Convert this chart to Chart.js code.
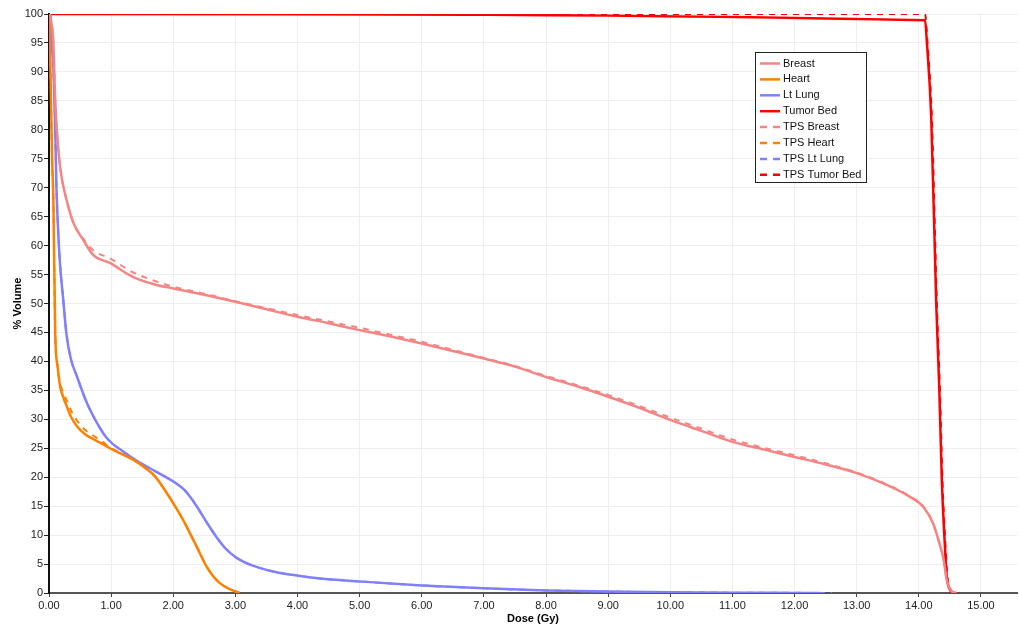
<!DOCTYPE html>
<html>
<head>
<meta charset="utf-8">
<script src="https://cdn.jsdelivr.net/npm/chart.js@4.4.1/dist/chart.umd.min.js"></script>
<style>
  html, body { margin: 0; padding: 0; background: #fff; }
  #wrap { position: relative; width: 1019px; height: 627px; }
</style>
</head>
<body>
<div id="wrap"><canvas id="dvh"></canvas></div>
<script>
// ── Data (dose in Gy, volume in %) ─────────────────────────────────────────────

const xTicks = [0, 1, 2, 3, 4, 5, 6, 7, 8, 9, 10, 11, 12, 13, 14, 15];
const yTicks = [0, 5, 10, 15, 20, 25, 30, 35, 40, 45, 50, 55, 60, 65, 70, 75, 80, 85, 90, 95, 100];

const breastDose = [0, 0.03, 0.07, 0.1, 0.15, 0.2, 0.28, 0.39, 0.55, 0.71, 0.98, 1.35, 1.73, 2.0, 2.5, 3.0, 3.5, 4.0, 4.5, 5.0, 5.5, 6.0, 6.5, 7.0, 7.5, 8.0, 8.5, 9.0, 9.5, 10.0, 10.5, 11.0, 11.5, 12.0, 12.5, 13.0, 13.5, 13.86, 14.07, 14.23, 14.32, 14.4, 14.45, 14.52, 14.6];
const breastVol  = [100, 99, 95, 85, 76.5, 72, 68, 64, 61, 58.4, 57, 54.6, 53.2, 52.6, 51.5, 50.3, 49, 47.7, 46.6, 45.4, 44.3, 43.1, 41.8, 40.5, 39.1, 37.3, 35.7, 33.9, 32.0, 29.9, 28.0, 26.1, 24.8, 23.5, 22.2, 20.7, 18.6, 16.6, 14.9, 12.0, 9.0, 5.7, 2.2, 0.4, 0];
const tpsBreastVol = [100, 99, 95, 85, 76.5, 72, 68, 64, 61.2, 59.2, 57.8, 55.4, 53.8, 52.9, 51.7, 50.4, 49.2, 48.0, 46.9, 45.8, 44.6, 43.4, 42.0, 40.6, 39.2, 37.5, 35.9, 34.2, 32.3, 30.3, 28.4, 26.5, 25.1, 23.8, 22.4, 20.8, 18.7, 16.7, 15.0, 12.0, 9.0, 5.7, 2.2, 0.4, 0];

const heartDose = [0, 0.02, 0.05, 0.07, 0.1, 0.14, 0.18, 0.23, 0.28, 0.36, 0.45, 0.58, 0.71, 0.85, 0.98, 1.15, 1.36, 1.55, 1.71, 1.85, 2.0, 2.15, 2.27, 2.4, 2.54, 2.65, 2.75, 2.9, 3.07];
const heartVol  = [100, 92, 75, 68, 45, 39, 35.6, 33.8, 32.4, 30.3, 28.8, 27.4, 26.6, 25.8, 25.0, 24.1, 23.0, 21.6, 20.1, 18.0, 15.5, 12.8, 10.3, 7.5, 4.5, 2.8, 1.7, 0.7, 0];
const tpsHeartVol = [100, 92, 75, 68, 45, 39, 36.2, 34.6, 33.4, 31.4, 29.8, 28.2, 27.2, 26.2, 25.2, 24.2, 23.0, 21.6, 20.1, 18.0, 15.5, 12.8, 10.3, 7.5, 4.5, 2.8, 1.7, 0.7, 0];

const lungDose = [0, 0.02, 0.04, 0.07, 0.1, 0.12, 0.15, 0.18, 0.23, 0.28, 0.35, 0.45, 0.61, 0.72, 0.82, 0.92, 1.02, 1.12, 1.25, 1.4, 1.63, 1.9, 2.05, 2.17, 2.28, 2.4, 2.55, 2.7, 2.85, 3.0, 3.15, 3.4, 3.7, 4.0, 4.36, 5.0, 6.0, 7.0, 8.0, 9.0, 10.0, 11.0, 12.0, 12.4];
const lungVol  = [100, 100, 95, 91, 80, 70, 62, 56.4, 50.6, 44.8, 40.5, 37.4, 32.8, 30.4, 28.5, 26.9, 25.8, 25.0, 24.0, 22.9, 21.5, 19.9, 18.9, 17.9, 16.5, 14.6, 12.0, 9.6, 7.6, 6.2, 5.3, 4.3, 3.5, 3.0, 2.5, 2.0, 1.3, 0.8, 0.45, 0.25, 0.12, 0.05, 0.02, 0];
const tpsLungDose = [0, 0.02, 0.04, 0.07, 0.1, 0.12, 0.15, 0.18, 0.23, 0.28, 0.35, 0.45, 0.61, 0.72, 0.82, 0.92, 1.02, 1.12, 1.25, 1.4, 1.63, 1.9, 2.05, 2.17, 2.28, 2.4, 2.55, 2.7, 2.85, 3.0, 3.15, 3.4, 3.7, 4.0, 4.36, 5.0, 6.0, 7.0, 8.0, 9.0, 10.0, 11.0, 12.0, 12.6];
const tpsLungVol  = [100, 100, 95, 91, 80, 70, 62, 56.4, 50.6, 44.8, 40.5, 37.4, 32.8, 30.4, 28.5, 26.9, 25.8, 25.0, 24.0, 22.9, 21.5, 19.9, 18.9, 17.9, 16.5, 14.6, 12.0, 9.6, 7.6, 6.2, 5.3, 4.3, 3.5, 3.0, 2.5, 2.0, 1.3, 0.8, 0.45, 0.25, 0.12, 0.06, 0.03, 0];

const bedDose = [0, 14.1, 14.13, 14.2, 14.28, 14.33, 14.37, 14.42, 14.45, 14.5, 14.56];
const bedVol  = [100, 98.9, 95, 82, 50, 35, 19.5, 8, 2.8, 0.6, 0];
const tpsBedDose = [0, 14.1, 14.14, 14.21, 14.29, 14.34, 14.38, 14.43, 14.46, 14.51, 14.57];
const tpsBedVol  = [100, 100, 95, 82, 50, 35, 19.5, 8, 2.8, 0.6, 0];

// ── Helpers ──────────────────────────────────────────────────────────────────

function pts(xs, ys) { return xs.map((x, i) => ({ x: x, y: ys[i] })); }

const FONT = '"Liberation Sans", Arial, sans-serif';
const C_BREAST = '#f58585';
const C_HEART = '#ff8000';
const C_LUNG = '#8080ff';
const C_BED = '#ff0000';

function solid(label, data, color) {
  return { label, data, borderColor: color, borderWidth: 2.5, pointRadius: 0, cubicInterpolationMode: 'monotone', fill: false };
}
function dashed(label, data, color) {
  return { label, data, borderColor: color, borderWidth: 2, borderDash: [6, 6], pointRadius: 0, cubicInterpolationMode: 'monotone', fill: false };
}

// ── Boxed legend drawn inside the plot ───────────────────────────────────────

const boxLegend = {
  id: 'boxLegend',
  afterDatasetsDraw(chart) {
    const ctx = chart.ctx;
    const x0 = 755, y0 = 52, w = 111, h = 130;
    ctx.save();
    ctx.fillStyle = '#fff';
    ctx.fillRect(x0, y0, w, h);
    ctx.strokeStyle = '#222';
    ctx.lineWidth = 1;
    ctx.strokeRect(x0 + 0.5, y0 + 0.5, w, h);
    chart.data.datasets.forEach((ds, i) => {
      const y = y0 + 11.5 + i * 15.9;
      ctx.strokeStyle = ds.borderColor;
      ctx.lineWidth = 2.5;
      ctx.setLineDash(ds.borderDash ? [7, 6] : []);
      ctx.beginPath();
      ctx.moveTo(x0 + 5, y);
      ctx.lineTo(x0 + 25, y);
      ctx.stroke();
      ctx.setLineDash([]);
      ctx.fillStyle = '#111';
      ctx.font = '11px ' + FONT;
      ctx.textBaseline = 'middle';
      ctx.fillText(ds.label, x0 + 28, y);
    });
    ctx.restore();
  }
};

// ── Chart ────────────────────────────────────────────────────────────────────

new Chart(document.getElementById('dvh').getContext('2d'), {
  type: 'line',
  data: {
    datasets: [
      solid('Breast', pts(breastDose, breastVol), C_BREAST),
      solid('Heart', pts(heartDose, heartVol), C_HEART),
      solid('Lt Lung', pts(lungDose, lungVol), C_LUNG),
      solid('Tumor Bed', pts(bedDose, bedVol), C_BED),
      dashed('TPS Breast', pts(breastDose, tpsBreastVol), C_BREAST),
      dashed('TPS Heart', pts(heartDose, tpsHeartVol), C_HEART),
      dashed('TPS Lt Lung', pts(tpsLungDose, tpsLungVol), C_LUNG),
      dashed('TPS Tumor Bed', pts(tpsBedDose, tpsBedVol), C_BED),
    ],
  },
  options: {
    responsive: true,
    maintainAspectRatio: false,
    animation: false,
    layout: { padding: { top: 14, right: 2, left: 0, bottom: 0 } },
    plugins: { legend: { display: false }, tooltip: { enabled: false } },
    scales: {
      x: {
        type: 'linear',
        min: 0,
        max: 15.58,
        afterBuildTicks: s => { s.ticks = xTicks.map(v => ({ value: v })); },
        afterFit: s => { s.height = 34; },
        grid: { color: '#eeeeee', tickColor: '#444', tickLength: 4 },
        border: { color: '#555', width: 2 },
        ticks: { color: '#222', font: { family: FONT, size: 11 }, padding: 2, maxRotation: 0, callback: v => v.toFixed(2) },
        title: { display: true, text: 'Dose (Gy)', color: '#000', font: { family: FONT, size: 11, weight: 'bold' }, padding: { top: 0, bottom: 1 } },
      },
      y: {
        type: 'linear',
        min: 0,
        max: 100,
        afterBuildTicks: s => { s.ticks = yTicks.map(v => ({ value: v })); },
        afterFit: s => { s.width = 49; },
        grid: { color: '#eeeeee', tickColor: '#222', tickLength: 5 },
        border: { color: '#111', width: 2 },
        ticks: { color: '#222', font: { family: FONT, size: 11 }, padding: 1 },
        title: { display: true, text: '% Volume', color: '#000', font: { family: FONT, size: 11, weight: 'bold' }, padding: { top: 11, bottom: 0 } },
      },
    },
  },
  plugins: [boxLegend],
});
</script>
</body>
</html>
